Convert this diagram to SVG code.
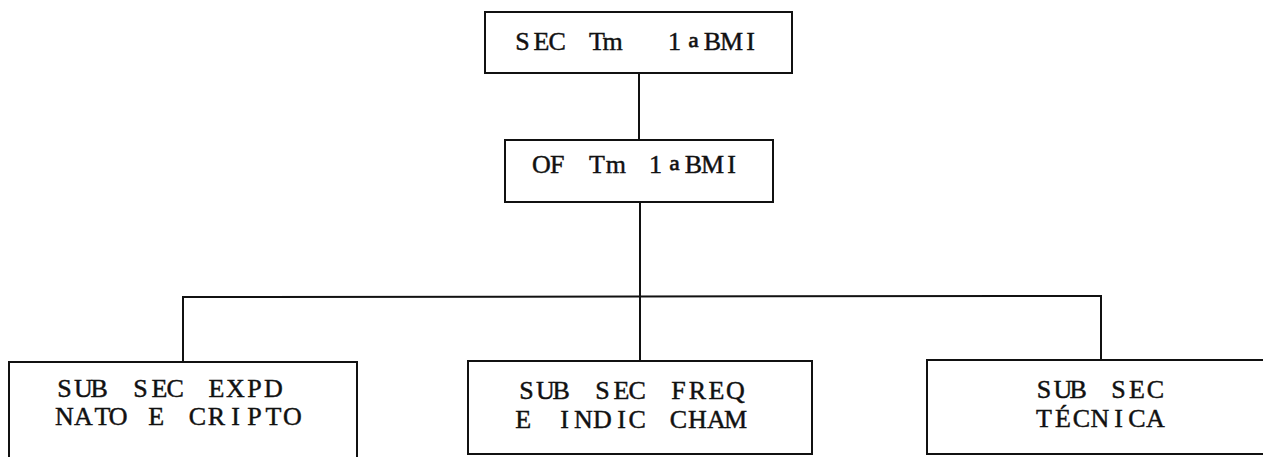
<svg xmlns="http://www.w3.org/2000/svg" width="1263" height="457" viewBox="0 0 1263 457">
<style>
.box{fill:#fff;stroke:#111;stroke-width:2}
.ln{fill:none;stroke:#111;stroke-width:2}
.t{font-family:"Liberation Serif","Times New Roman",serif;font-size:26px;fill:#111;stroke:#111;stroke-width:0.45;text-anchor:middle}
.o{font-size:36px;stroke-width:0.5}
</style>
<rect width="1263" height="457" fill="#fff"/>
<g id="connectors">
<line class="ln" x1="639" y1="73" x2="639" y2="140"/>
<line class="ln" x1="640" y1="202" x2="640" y2="361"/>
<polyline class="ln" points="183,362 183,297 1101,296 1101,360"/>
</g>
<g id="sec">
<rect class="box" x="485" y="12" width="307" height="61"/>
<text class="t" y="50" xml:space="preserve"><tspan x="522.5 541.5 560.5">SEC</tspan> <tspan x="597 619">Tm</tspan>  <tspan x="674.5">1</tspan><tspan class="o" x="693.5" y="61">ª</tspan><tspan x="712.5 731.5 750.5" y="50">BMI</tspan></text>
</g>
<g id="of">
<rect class="box" x="505" y="140" width="268" height="62"/>
<text class="t" y="173" xml:space="preserve"><tspan x="541.5 560.5">OF</tspan> <tspan x="597 619">Tm</tspan> <tspan x="655.5">1</tspan><tspan class="o" x="674.5" y="184">ª</tspan><tspan x="693.5 712.5 731.5" y="173">BMI</tspan></text>
</g>
<g id="expd">
<rect class="box" x="9" y="362" width="348" height="100"/>
<text class="t" y="397"><tspan x="64.5 83.5 102.5">SUB</tspan> <tspan x="140.5 159.5 178.5">SEC</tspan> <tspan x="216.5 235.5 254.5 273.5">EXPD</tspan></text>
<text class="t" y="425"><tspan x="64.5 83.5 102.5 121.5">NATO</tspan> <tspan x="159.5">E</tspan> <tspan x="197.5 216.5 235.5 254.5 273.5 292.5">CRIPTO</tspan></text>
</g>
<g id="freq">
<rect class="box" x="468" y="361" width="344" height="93"/>
<text class="t" y="399"><tspan x="526.5 545.5 564.5">SUB</tspan> <tspan x="602.5 621.5 640.5">SEC</tspan> <tspan x="678.5 697.5 716.5 735.5">FREQ</tspan></text>
<text class="t" y="428"><tspan x="526.5">E</tspan> <tspan x="564.5 583.5 602.5 621.5 640.5">INDIC</tspan> <tspan x="678.5 697.5 716.5 735.5">CHAM</tspan></text>
</g>
<g id="tecnica">
<rect class="box" x="927" y="360" width="345" height="94"/>
<text class="t" y="398"><tspan x="1044 1063 1081.5">SUB</tspan> <tspan x="1118.5 1137 1155.5">SEC</tspan></text>
<text class="t" y="427"><tspan x="1044 1063 1081.5 1100 1118.5 1137 1155.5">TÉCNICA</tspan></text>
</g>
</svg>
